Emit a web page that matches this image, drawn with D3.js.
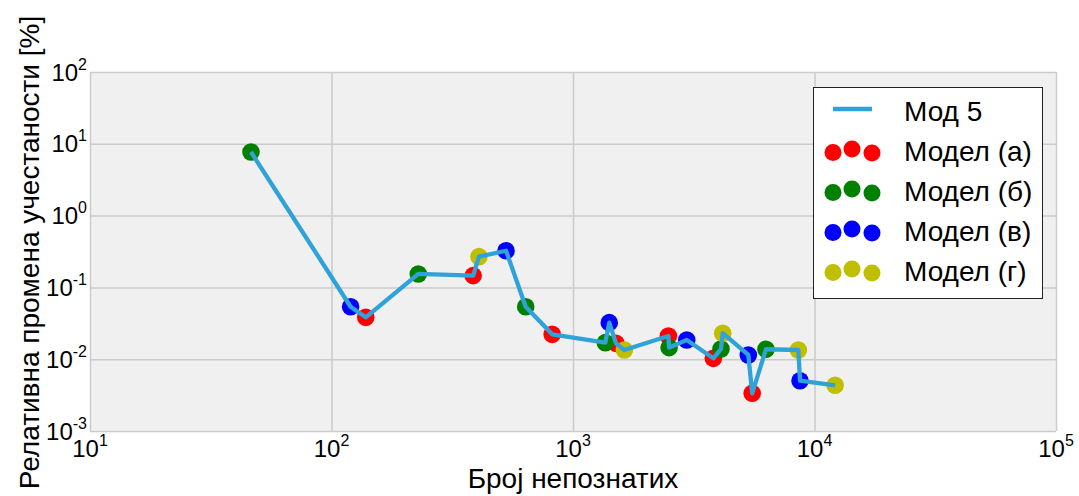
<!DOCTYPE html>
<html><head><meta charset="utf-8">
<script src="https://cdn.jsdelivr.net/npm/d3@7"></script>
<style>body{margin:0;background:#fff}svg{display:block}text{font-family:"Liberation Sans",Arial,sans-serif}</style>
</head><body><svg id="c" width="1079" height="496"></svg>
<script>
// Data
const xTicks=[1e1,1e2,1e3,1e4,1e5];
const xTickExp=["1","2","3","4","5"];
const yTicks=[1e-3,1e-2,1e-1,1e0,1e1,1e2];
const yTickExp=["-3","-2","-1","0","1","2"];
const seriesNames=["Мод 5","Модел (а)","Модел (б)","Модел (в)","Модел (г)"];
const mod5X=[46.4,120,138.6,228.8,386,408,528,637,820,1361,1413,1507,1632,2483,2500,2958,3812,4100,4168,5321,5521,6295,8571,8710,12170];
const mod5Y=[7.7,0.0538,0.0383,0.154,0.146,0.268,0.324,0.0538,0.0222,0.0170,0.0323,0.0166,0.0134,0.0210,0.0145,0.0185,0.01028,0.01387,0.0230,0.01145,0.00335,0.01375,0.01343,0.00502,0.00433];
const modelAX=[138.6,386,820,1507,2483,3812,5521];
const modelAY=[0.0383,0.146,0.0222,0.0166,0.0210,0.01028,0.00335];
const modelBX=[46.4,228.8,637,1361,2500,4100,6295];
const modelBY=[7.7,0.154,0.0538,0.0170,0.0145,0.01387,0.01375];
const modelVX=[120,528,1413,2958,5321,8710];
const modelVY=[0.0538,0.324,0.0323,0.0185,0.01145,0.00502];
const modelGX=[408,1632,4168,8571,12170];
const modelGY=[0.268,0.0134,0.0230,0.01343,0.00433];
const xLabel="Број непознатих";
const yLabel="Релативна промена учестаности [%]";

const colors=["#30a2da","#ff0000","#008000","#0000ff","#bfbf00"];
const svg=d3.select("#c");
const L=90,R=1056,T=72,B=431;
const x=d3.scaleLog().domain([1e1,1e5]).range([L,R]);
const y=d3.scaleLog().domain([1e-3,1e2]).range([B,T]);

svg.append("rect").attr("x",L).attr("y",T).attr("width",R-L).attr("height",B-T).attr("fill","#f0f0f0");
// grid
const gx=svg.append("g").attr("transform",`translate(0,${B})`)
  .call(d3.axisBottom(x).tickValues(xTicks).tickSize(-(B-T)).tickFormat(""));
const gy=svg.append("g").attr("transform",`translate(${L},0)`)
  .call(d3.axisLeft(y).tickValues(yTicks).tickSize(-(R-L)).tickFormat(""));
[gx,gy].forEach(g=>{g.select(".domain").remove();g.selectAll("line").attr("stroke","#cbcbcb").attr("stroke-width",1.5);});

// tick labels
xTicks.forEach((t,i)=>{
  const tx=svg.append("text").attr("x",x(t)).attr("y",457).attr("text-anchor","middle").attr("font-size",24).attr("fill","#000");
  tx.append("tspan").text("10");
  tx.append("tspan").attr("dy",-11).attr("font-size",16).text(xTickExp[i]);
});
yTicks.forEach((t,i)=>{
  const ty=svg.append("text").attr("x",87).attr("y",y(t)+8.5).attr("text-anchor","end").attr("font-size",24).attr("fill","#000");
  ty.append("tspan").text("10");
  ty.append("tspan").attr("dy",-11).attr("font-size",16).text(yTickExp[i]);
});

// axis labels
svg.append("text").attr("x",(L+R)/2).attr("y",488).attr("text-anchor","middle").attr("font-size",28).text(xLabel);
svg.append("text").attr("transform",`translate(39,${(T+B)/2+1}) rotate(-90)`).attr("text-anchor","middle").attr("font-size",28).text(yLabel);

// points
const models=[[modelAX,modelAY],[modelBX,modelBY],[modelVX,modelVY],[modelGX,modelGY]];
const r=8.8;
models.forEach((m,k)=>{
  svg.append("g").selectAll("circle").data(m[0].map((v,i)=>[v,m[1][i]])).join("circle")
    .attr("cx",d=>x(d[0])).attr("cy",d=>y(d[1])).attr("r",r).attr("fill",colors[k+1]);
});
// line
const line=d3.line().x(d=>x(d[0])).y(d=>y(d[1]));
svg.append("path").datum(mod5X.map((v,i)=>[v,mod5Y[i]])).attr("d",line)
  .attr("fill","none").attr("stroke",colors[0]).attr("stroke-width",4.3).attr("stroke-linejoin","round");

// legend
const lg=svg.append("g");
lg.append("rect").attr("x",813.5).attr("y",87.5).attr("width",229).attr("height",211).attr("fill","#fff").attr("stroke","#222").attr("stroke-width",1);
const rowY=[111,151,191,231,271];
lg.append("line").attr("x1",833).attr("x2",872).attr("y1",rowY[0]-2).attr("y2",rowY[0]-2).attr("stroke",colors[0]).attr("stroke-width",4.3);
const offs=[[833,1.5],[852,-2],[872,2]];
for(let k=1;k<5;k++){
  offs.forEach(o=>lg.append("circle").attr("cx",o[0]).attr("cy",rowY[k]+o[1]).attr("r",8.5).attr("fill",colors[k]));
}
seriesNames.forEach((s,k)=>{
  lg.append("text").attr("x",904).attr("y",rowY[k]+10).attr("font-size",28).attr("fill","#000").text(s);
});
</script></body></html>
